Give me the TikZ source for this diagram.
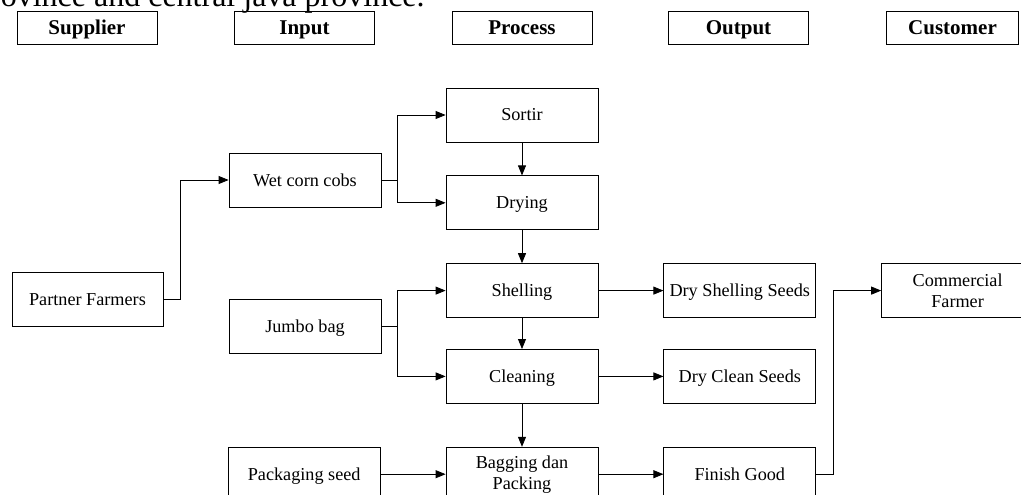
\documentclass[tikz,border=0pt]{standalone}
\usepackage{fontspec}
\setmainfont{Liberation Serif}
\usepackage{tikz}
\usetikzlibrary{arrows.meta,positioning,calc}

\begin{document}
\begin{tikzpicture}[x=1pt,y=-1pt,>={Triangle[length=10pt,width=8pt]},line width=0.8pt,
  box/.style={draw,minimum width=152pt,minimum height=54pt,inner sep=2pt,text height=12pt,text depth=0pt,font=\fontsize{18.2}{21}\selectfont},
  twoline/.style={box,align=center,text height=,text depth=},
  head/.style={draw,minimum width=140pt,minimum height=33pt,inner sep=2pt,text height=14pt,text depth=0pt,font=\fontsize{21}{24}\selectfont\bfseries}]
\useasboundingbox (0,0) rectangle (1021,495);
\clip (0,0) rectangle (1021,495);
\node[anchor=base east,inner sep=0pt,font=\fontsize{32}{36}\selectfont] (cut) at (425,7) {province and central java province.};
\node[head] (hsup) at (87,27.5) {Supplier};
\node[head] (hin) at (304.5,27.5) {Input};
\node[head] (hproc) at (522,27.5) {Process};
\node[head] (hout) at (738.5,27.5) {Output};
\node[head,minimum width=132pt] (hcust) at (952.5,27.5) {Customer};
\node[box] (sortir) at (522,115) {Sortir};
\node[box,below=33pt of sortir] (drying) {Drying};
\node[box,below=33pt of drying] (shelling) {Shelling};
\node[box,below=31pt of shelling] (cleaning) {Cleaning};
\node[twoline,below=43pt of cleaning] (bagging) {Bagging dan\\ Packing};
\node[box,right=65pt of shelling] (dryshell) {Dry Shelling Seeds};
\node[box,right=65pt of cleaning] (dryclean) {Dry Clean Seeds};
\node[box,right=65pt of bagging] (finish) {Finish Good};
\node[twoline,right=65pt of dryshell] (commercial) {Commercial\\ Farmer};
\node[box] (wetcorn) at (305,180) {Wet corn cobs};
\node[box,minimum width=151pt] (partner) at (87.5,299) {Partner Farmers};
\node[box] (jumbo) at (305,326) {Jumbo bag};
\node[box,left=65pt of bagging] (packaging) {Packaging seed};
\draw[->] (partner.east) -- ++(17,0) |- (wetcorn.west);
\draw (wetcorn.east) -- ++(16,0) coordinate (wsplit);
\draw[->] (wsplit) |- (sortir.west);
\draw[->] (wsplit) |- (drying.west);
\draw (jumbo.east) -- ++(16,0) coordinate (jsplit);
\draw[->] (jsplit) |- (shelling.west);
\draw[->] (jsplit) |- (cleaning.west);
\draw[->] (sortir) -- (drying);
\draw[->] (drying) -- (shelling);
\draw[->] (shelling) -- (cleaning);
\draw[->] (cleaning) -- (bagging);
\draw[->] (shelling) -- (dryshell);
\draw[->] (cleaning) -- (dryclean);
\draw[->] (bagging) -- (finish);
\draw[->] (packaging) -- (bagging);
\draw[->] (finish.east) -- ++(17,0) |- (commercial.west);
\end{tikzpicture}
\end{document}
